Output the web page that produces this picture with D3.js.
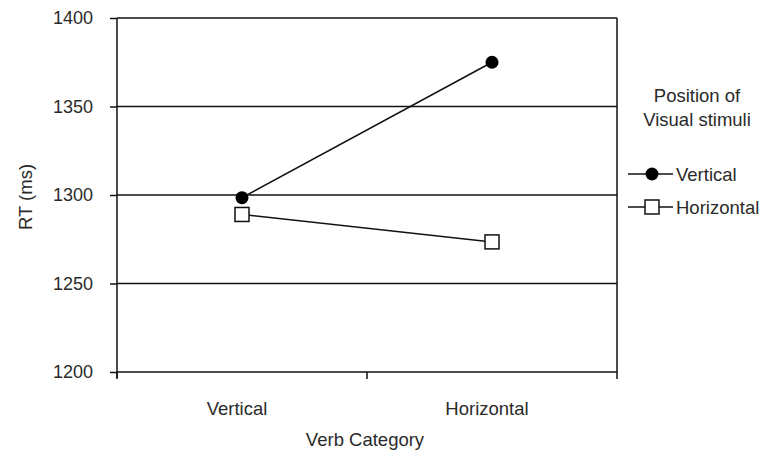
<!DOCTYPE html>
<html lang="en">
<head>
<meta charset="UTF-8">
<title>RT by Verb Category</title>
<style>
    body { margin: 0; background: #fff; font-family: "Liberation Sans", Arial, sans-serif; }
    svg text { fill: #2a2a2a; }
</style>
</head>
<body>
<svg id="chart" width="768" height="457"></svg>
<script src="https://d3js.org/d3.v7.min.js"></script>
<script>
    // data
    const categories = ["Vertical", "Horizontal"];
    const verticalRT = [1298.5, 1375];
    const horizontalRT = [1289, 1273.5];
    const yTicks = [1200, 1250, 1300, 1350, 1400];
    const seriesNames = ["Vertical", "Horizontal"];

    const svg = d3.select("#chart");
    const plotLeft = 117, plotRight = 617, plotTop = 18, plotBottom = 372;
    const wordSize = 18.5;

    const x = d3.scaleBand().domain(categories).range([plotLeft, plotRight]);
    const y = d3.scaleLinear().domain([1200, 1400]).range([plotBottom, plotTop]);

    // gridlines
    svg.append("g").selectAll("line")
        .data(yTicks.filter(t => t > 1200))
        .join("line")
        .attr("x1", plotLeft).attr("x2", plotRight)
        .attr("y1", d => y(d)).attr("y2", d => y(d))
        .attr("stroke", "#111").attr("stroke-width", 1.5);

    // right border
    svg.append("line")
        .attr("x1", plotRight).attr("x2", plotRight)
        .attr("y1", plotTop).attr("y2", plotBottom)
        .attr("stroke", "#111").attr("stroke-width", 1.5);

    // y axis
    const yAxis = svg.append("g")
        .attr("transform", `translate(${plotLeft},0)`)
        .call(d3.axisLeft(y).tickValues(yTicks).tickSize(7).tickPadding(17).tickFormat(d3.format("d")));
    yAxis.select(".domain").attr("stroke", "#111").attr("stroke-width", 1.5).attr("d", `M0,${plotTop}V${plotBottom + 6}`);
    yAxis.selectAll(".tick line").attr("stroke", "#111").attr("stroke-width", 1.5);
    yAxis.selectAll(".tick text").attr("font-size", 18).attr("font-family", "Liberation Sans, Arial, sans-serif");

    // x axis: ticks at category boundaries
    const xAxis = svg.append("g").attr("transform", `translate(0,${plotBottom})`);
    xAxis.append("line")
        .attr("x1", plotLeft).attr("x2", plotRight)
        .attr("stroke", "#111").attr("stroke-width", 1.5);
    const bounds = [plotLeft, ...categories.slice(1).map(c => x(c)), plotRight];
    xAxis.selectAll("line.tk")
        .data(bounds)
        .join("line").attr("class", "tk")
        .attr("x1", d => d).attr("x2", d => d)
        .attr("y1", 0).attr("y2", 7)
        .attr("stroke", "#111").attr("stroke-width", 1.5);
    xAxis.selectAll("text")
        .data(categories)
        .join("text")
        .attr("x", d => x(d) + x.bandwidth() / 2 - 5)
        .attr("y", 43)
        .attr("text-anchor", "middle")
        .attr("font-size", wordSize)
        .text(d => d);

    // axis titles
    svg.append("text")
        .attr("x", 365).attr("y", 446)
        .attr("text-anchor", "middle").attr("font-size", wordSize)
        .text("Verb Category");
    svg.append("text")
        .attr("transform", "translate(32,197) rotate(-90)")
        .attr("text-anchor", "middle").attr("font-size", wordSize)
        .text("RT (ms)");

    const cx = c => x(c) + x.bandwidth() / 2;
    const line = d3.line().x((d, i) => cx(categories[i])).y(d => y(d));

    // horizontal series (squares)
    svg.append("path").datum(horizontalRT)
        .attr("d", line).attr("fill", "none")
        .attr("stroke", "#111").attr("stroke-width", 1.5);
    svg.append("g").selectAll("rect")
        .data(horizontalRT)
        .join("rect")
        .attr("x", (d, i) => cx(categories[i]) - 7)
        .attr("y", d => y(d) - 7)
        .attr("width", 14).attr("height", 14)
        .attr("fill", "#fff").attr("stroke", "#111").attr("stroke-width", 1.5);

    // vertical series (filled circles)
    svg.append("path").datum(verticalRT)
        .attr("d", line).attr("fill", "none")
        .attr("stroke", "#111").attr("stroke-width", 1.5);
    svg.append("g").selectAll("circle")
        .data(verticalRT)
        .join("circle")
        .attr("cx", (d, i) => cx(categories[i]))
        .attr("cy", d => y(d))
        .attr("r", 6.5)
        .attr("fill", "#000");

    // legend
    const legend = svg.append("g");
    legend.append("text").attr("x", 697).attr("y", 102)
        .attr("text-anchor", "middle").attr("font-size", wordSize).text("Position of");
    legend.append("text").attr("x", 697).attr("y", 126)
        .attr("text-anchor", "middle").attr("font-size", wordSize).text("Visual stimuli");

    const items = legend.selectAll("g.item")
        .data(seriesNames)
        .join("g").attr("class", "item")
        .attr("transform", (d, i) => `translate(0,${174 + i * 33})`);
    items.append("line")
        .attr("x1", 628).attr("x2", 673)
        .attr("stroke", "#111").attr("stroke-width", 1.5);
    items.filter((d, i) => i === 0).append("circle")
        .attr("cx", 652).attr("r", 6.5).attr("fill", "#000");
    items.filter((d, i) => i === 1).append("rect")
        .attr("x", 645).attr("y", -7).attr("width", 14).attr("height", 14)
        .attr("fill", "#fff").attr("stroke", "#111").attr("stroke-width", 1.5);
    items.append("text")
        .attr("x", 676).attr("y", 6.5)
        .attr("font-size", wordSize)
        .text(d => d);
</script>
</body>
</html>
